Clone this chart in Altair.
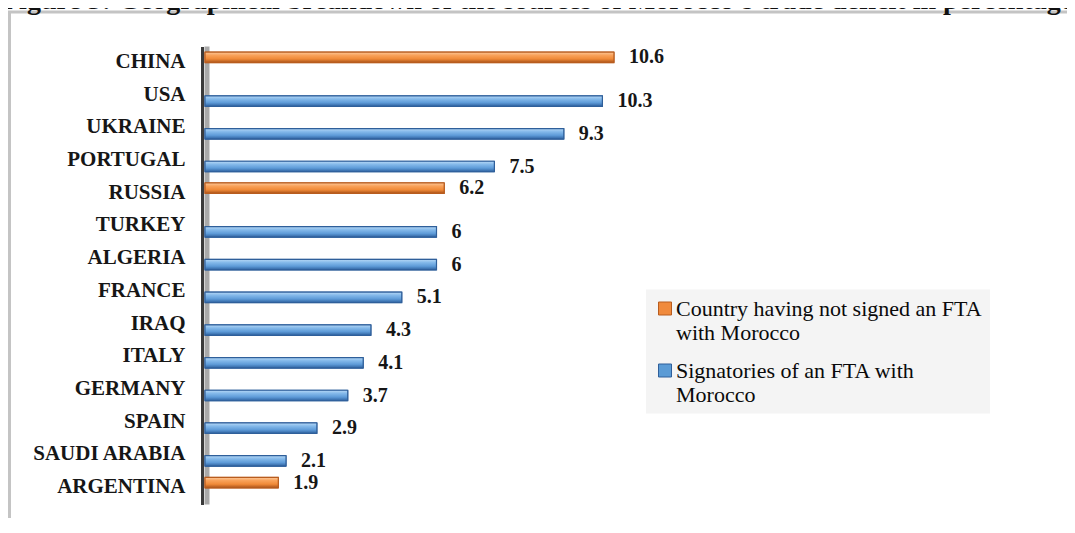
import altair as alt
import pandas as pd

# ---- data ----
countries = ["CHINA", "USA", "UKRAINE", "PORTUGAL", "RUSSIA", "TURKEY", "ALGERIA",
             "FRANCE", "IRAQ", "ITALY", "GERMANY", "SPAIN", "SAUDI ARABIA", "ARGENTINA"]
values = [10.6, 10.3, 9.3, 7.5, 6.2, 6, 6, 5.1, 4.3, 4.1, 3.7, 2.9, 2.1, 1.9]
series_names = ["Country having not signed an FTA with Morocco",
                "Signatories of an FTA with Morocco"]
series_lines = [["Country having not signed an FTA", "with Morocco"],
                ["Signatories of an FTA with", "Morocco"]]
group_index = [0, 1, 1, 1, 0, 1, 1, 1, 1, 1, 1, 1, 1, 0]
title_text = "Figure 3: Geographical breakdown of the sources of Morocco\u2019s trade deficit in percentage (%)"

df = pd.DataFrame({
    "country": countries,
    "value": values,
    "series": [series_names[g] for g in group_index],
})
one = pd.DataFrame({"k": [0]})

SERIF = "Liberation Serif"
W, H = 463, 458
fill_range = ["#f08a3c", "#5b9bd5"]
stroke_range = ["#b85c1e", "#2f5f9a"]
offsets = [-5.5, 5.5]
BAR = 10.5

grads = [
    alt.LinearGradient(gradient="linear", x1=0, x2=0, y1=0, y2=1, stops=[
        alt.GradientStop(offset=0, color="#fcc89a"),
        alt.GradientStop(offset=0.3, color="#f9a25a"),
        alt.GradientStop(offset=0.65, color="#f08a38"),
        alt.GradientStop(offset=1, color="#a9521a")]),
    alt.LinearGradient(gradient="linear", x1=0, x2=0, y1=0, y2=1, stops=[
        alt.GradientStop(offset=0, color="#b8d9f6"),
        alt.GradientStop(offset=0.3, color="#84b9ea"),
        alt.GradientStop(offset=0.65, color="#5e9bd8"),
        alt.GradientStop(offset=1, color="#2e619f")]),
]

x_enc = alt.X("value:Q", scale=alt.Scale(domain=[0, 12], nice=False, zero=True), axis=None)
y_enc = alt.Y("country:N", sort=countries,
              scale=alt.Scale(paddingInner=0.33, paddingOuter=0.165),
              axis=alt.Axis(title=None, ticks=False, labelFont=SERIF, labelFontWeight="bold",
                            labelFontSize=21, labelColor="#161616", labelPadding=17,
                            labelOffset=-1,
                            domainColor="#3a3a3a", domainWidth=3, offset=3, zindex=1,
                            labelLimit=300))

label_expr = ("datum.label == '%s' ? ['%s', '%s'] : ['%s', '%s']" %
              (series_names[0], series_lines[0][0], series_lines[0][1],
               series_lines[1][0], series_lines[1][1]))

legend = alt.Legend(title=None, orient="none", legendX=441, legendY=243,
                    fillColor="#f4f4f4", padding=8,
                    symbolType="square", symbolSize=169, symbolStrokeWidth=1,
                    labelFont=SERIF, labelFontSize=22, labelColor="#0a0a0a",
                    labelLimit=450, labelOffset=0, labelBaseline="middle",
                    rowPadding=16, labelExpr=label_expr)

frame = alt.Chart(one).mark_rect(fill="transparent", stroke="#c4c4c4", strokeWidth=3).encode(
    x=alt.value(-195.5), y=alt.value(-34.5), x2=alt.value(1500), y2=alt.value(1500))

title = alt.Chart(one).mark_text(align="left", baseline="alphabetic", font=SERIF,
                                  fontSize=28, fontWeight="bold", color="#111111").encode(
    x=alt.value(-203), y=alt.value(-38), text=alt.value(title_text))

shadow = alt.Chart(one).mark_rule(color="#a9a9a9", strokeWidth=5).encode(
    x=alt.value(2), y=alt.value(0), y2=alt.value(H))

layers = [frame, title, shadow]
base = alt.Chart(df).encode(x=x_enc, y=y_enc)
for i, name in enumerate(series_names):
    sub = base.transform_filter(alt.datum.series == name)
    flat = sub.mark_bar(size=BAR, yOffset=offsets[i]).encode(
        fill=alt.Fill("series:N", scale=alt.Scale(domain=series_names, range=fill_range),
                      legend=legend),
        stroke=alt.Stroke("series:N", scale=alt.Scale(domain=series_names, range=stroke_range),
                          legend=legend),
    )
    shaded = sub.mark_bar(size=BAR, yOffset=offsets[i], fill=grads[i],
                          stroke=stroke_range[i], strokeWidth=1.2)
    txt = sub.mark_text(align="left", baseline="middle", dx=15, yOffset=offsets[i],
                        font=SERIF, fontSize=20, fontWeight="bold",
                        color="#161616").encode(text=alt.Text("value:Q"))
    layers += [flat, shaded, txt]

chart = alt.layer(*layers).properties(
    width=W, height=H,
    autosize=alt.AutoSizeParams(type="none"),
    padding={"left": 197, "top": 38.5, "right": 399, "bottom": 13.5},
    background="white",
).configure_view(stroke=None)

chart.save("out.html", embed_options={"renderer": "svg", "actions": False})
